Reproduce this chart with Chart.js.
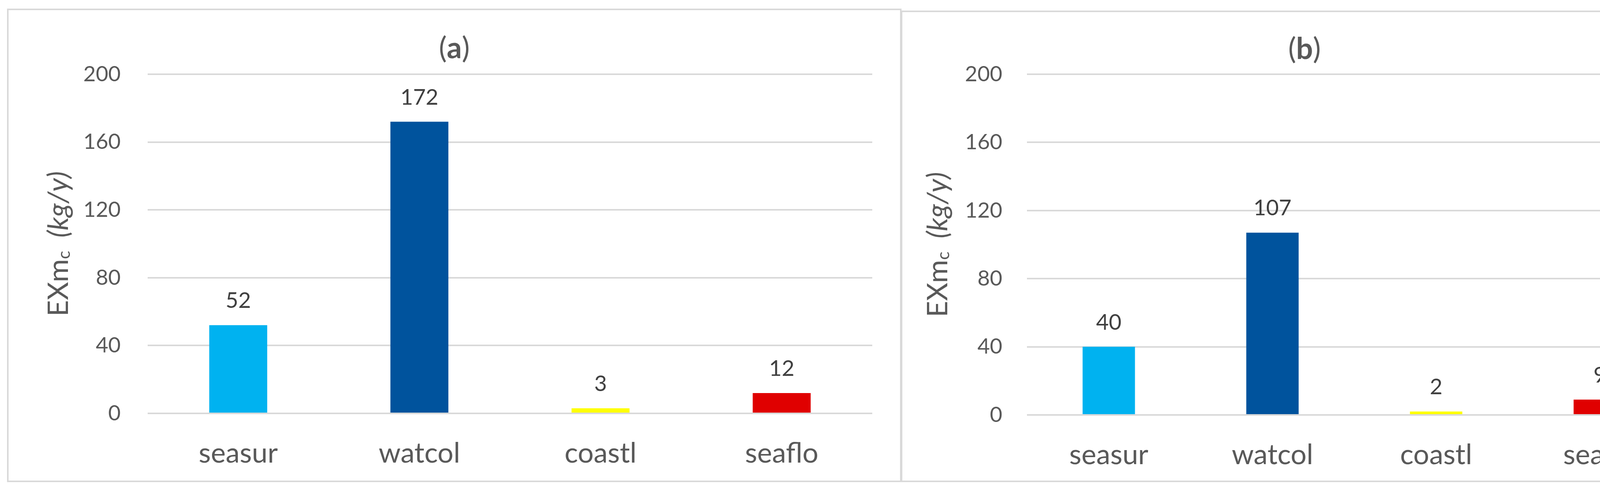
<!DOCTYPE html>
<html>
<head>
<meta charset="utf-8">
<script src="https://cdn.jsdelivr.net/npm/chart.js@4.4.1/dist/chart.umd.min.js"></script>
<style>
  body { margin: 0; background: #fff; width: 4393px; height: 1249px; position: relative; overflow: hidden; }
  .frame { position: absolute; border: 4px solid #d9d9d9; box-sizing: border-box; }
  canvas { position: absolute; }
</style>
</head>
<body>
<div class="frame" style="left:18px;top:22px;width:2290px;height:1212px;"></div>
<div class="frame" style="left:2306px;top:27px;width:2067px;height:1207px;"></div>
<canvas id="chartA" width="2286" height="1206" style="left:20px;top:24px;"></canvas>
<canvas id="chartB" width="2061" height="1202" style="left:2309px;top:29px;"></canvas>
<script>
const categories = ["seasur", "watcol", "coastl", "seaflo"];
const valuesA = [52, 172, 3, 12];
const valuesB = [40, 107, 2, 9];
const barColors = ["#00B2F0", "#00539D", "#FFFF00", "#E00000"];
const yMin = 0;
const yMax = 200;
const yStep = 40;

const FONT = "Lato";
const GREY = "#595959";

// titles, rotated y title with subscript, and value labels above bars
const panelText = {
  id: "panelText",
  afterDraw(chart, args, opts) {
    const ctx = chart.ctx;
    const ca = chart.chartArea;
    ctx.save();
    ctx.fillStyle = GREY;
    ctx.textBaseline = "middle";

    // "(a)" with bold letter
    const parts = [["(", "normal"], [opts.letter, "bold"], [")", "normal"]];
    let total = 0;
    parts.forEach(p => { ctx.font = p[1] + " 76px " + FONT; total += ctx.measureText(p[0]).width; });
    let x = chart.width / 2 - total / 2;
    ctx.textAlign = "left";
    parts.forEach(p => {
      ctx.font = p[1] + " 76px " + FONT;
      ctx.fillText(p[0], x, opts.titleY);
      x += ctx.measureText(p[0]).width;
    });

    // y axis title: EXm + subscript c + (kg/y) in italics
    ctx.translate(ca.left - 227, (ca.top + ca.bottom) / 2);
    ctx.rotate(-Math.PI / 2);
    const segs = [
      ["EXm", "normal 72px " + FONT, 0],
      ["c", "normal 44px " + FONT, 14],
      ["  (kg/y)", "italic 72px " + FONT, 0]
    ];
    let w = 0;
    segs.forEach(s => { ctx.font = s[1]; w += ctx.measureText(s[0]).width; });
    let px = -w / 2;
    segs.forEach(s => {
      ctx.font = s[1];
      ctx.fillText(s[0], px, s[2]);
      px += ctx.measureText(s[0]).width;
    });
    ctx.restore();

    // value labels
    ctx.save();
    ctx.fillStyle = "#404040";
    ctx.font = "normal 56px " + FONT;
    ctx.textAlign = "center";
    ctx.textBaseline = "alphabetic";
    const meta = chart.getDatasetMeta(0);
    const data = chart.data.datasets[0].data;
    meta.data.forEach((bar, i) => {
      ctx.fillText(String(data[i]), bar.x, bar.y - 44);
    });
    ctx.restore();
  }
};

function makeChart(id, values, letter, geo) {
  return new Chart(document.getElementById(id), {
    type: "bar",
    data: {
      labels: categories,
      datasets: [{
        data: values,
        backgroundColor: barColors,
        borderWidth: 0,
        barPercentage: 0.32,
        categoryPercentage: 1.0
      }]
    },
    options: {
      responsive: false,
      animation: false,
      devicePixelRatio: 1,
      layout: { padding: { top: geo.top, right: geo.right, left: 0, bottom: 0 } },
      plugins: {
        legend: { display: false },
        title: { display: false },
        tooltip: { enabled: false },
        panelText: { letter: letter, titleY: geo.titleY }
      },
      scales: {
        x: {
          grid: { display: false },
          border: { display: false },
          ticks: { color: GREY, font: { family: FONT, size: 72 }, padding: 52 },
          afterFit(scale) { scale.height = geo.xHeight; }
        },
        y: {
          min: yMin,
          max: yMax,
          grid: { color: "#d9d9d9", lineWidth: 4, drawTicks: false },
          border: { display: false },
          ticks: { stepSize: yStep, color: GREY, font: { family: FONT, size: 55 }, padding: geo.tickPad },
          afterFit(scale) { scale.width = geo.yWidth; }
        }
      }
    },
    plugins: [panelText]
  });
}

makeChart("chartA", valuesA, "a", { top: 166, right: 73, xHeight: 172, yWidth: 358, tickPad: 69, titleY: 100 });
makeChart("chartB", valuesB, "b", { top: 161, right: 65, xHeight: 169, yWidth: 320, tickPad: 63, titleY: 97 });
</script>
</body>
</html>
